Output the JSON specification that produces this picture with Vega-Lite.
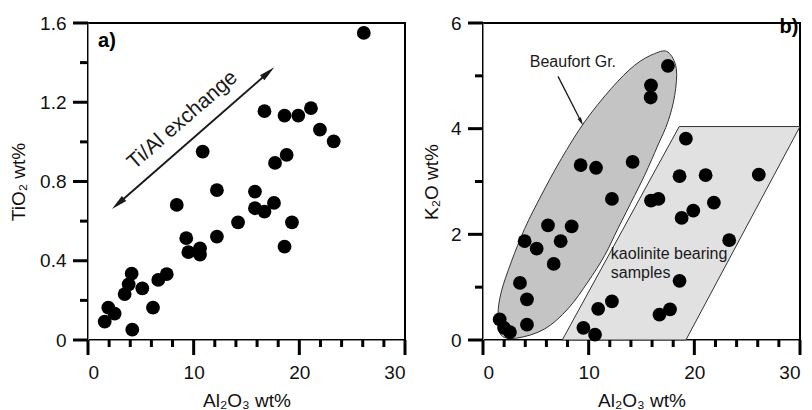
{
  "$schema": "https://vega.github.io/schema/vega-lite/v6.json",
  "padding": {"left": 8, "top": 13, "right": 0, "bottom": 0},
  "background": "white",
  "spacing": 13,
  "datasets": {
    "a_points": [
      {"x": 26.1, "y": 1.55}, {"x": 16.7, "y": 1.155}, {"x": 18.6, "y": 1.133}, {"x": 19.9, "y": 1.133},
      {"x": 21.1, "y": 1.17}, {"x": 21.95, "y": 1.062}, {"x": 23.25, "y": 1.003}, {"x": 10.85, "y": 0.951},
      {"x": 17.7, "y": 0.894}, {"x": 18.8, "y": 0.934}, {"x": 12.2, "y": 0.756}, {"x": 15.8, "y": 0.749},
      {"x": 8.4, "y": 0.682}, {"x": 17.6, "y": 0.692}, {"x": 15.8, "y": 0.665}, {"x": 16.7, "y": 0.648},
      {"x": 19.3, "y": 0.594}, {"x": 14.2, "y": 0.594}, {"x": 18.6, "y": 0.471}, {"x": 12.2, "y": 0.522},
      {"x": 9.3, "y": 0.514}, {"x": 9.5, "y": 0.443}, {"x": 10.6, "y": 0.463}, {"x": 10.6, "y": 0.431},
      {"x": 7.45, "y": 0.332}, {"x": 6.65, "y": 0.303}, {"x": 4.13, "y": 0.335}, {"x": 3.85, "y": 0.281},
      {"x": 3.47, "y": 0.232}, {"x": 5.14, "y": 0.261}, {"x": 6.15, "y": 0.163}, {"x": 1.92, "y": 0.163},
      {"x": 2.52, "y": 0.133}, {"x": 1.58, "y": 0.093}, {"x": 4.19, "y": 0.052}
    ],
    "b_points": [
      {"x": 17.5, "y": 5.19}, {"x": 15.9, "y": 4.82}, {"x": 15.87, "y": 4.59}, {"x": 19.2, "y": 3.81},
      {"x": 9.24, "y": 3.31}, {"x": 10.7, "y": 3.26}, {"x": 14.16, "y": 3.37}, {"x": 18.6, "y": 3.1},
      {"x": 21.07, "y": 3.12}, {"x": 26.1, "y": 3.13}, {"x": 12.2, "y": 2.67}, {"x": 15.9, "y": 2.64},
      {"x": 16.6, "y": 2.67}, {"x": 19.9, "y": 2.45}, {"x": 18.8, "y": 2.31}, {"x": 21.85, "y": 2.6},
      {"x": 23.3, "y": 1.89}, {"x": 6.15, "y": 2.17}, {"x": 8.39, "y": 2.15}, {"x": 3.94, "y": 1.87},
      {"x": 5.08, "y": 1.73}, {"x": 7.35, "y": 1.87}, {"x": 6.69, "y": 1.44}, {"x": 3.5, "y": 1.08},
      {"x": 4.16, "y": 0.77}, {"x": 4.16, "y": 0.29}, {"x": 1.58, "y": 0.39}, {"x": 1.99, "y": 0.23},
      {"x": 2.55, "y": 0.15}, {"x": 18.6, "y": 1.12}, {"x": 12.2, "y": 0.73}, {"x": 10.9, "y": 0.59},
      {"x": 17.7, "y": 0.58}, {"x": 16.7, "y": 0.48}, {"x": 9.5, "y": 0.23}, {"x": 10.6, "y": 0.1}
    ],
    "ellipse": [
      {"i": 1, "x": 17.5, "y": 5.45}, {"i": 2, "x": 18.29, "y": 5.14}, {"i": 3, "x": 18.14, "y": 4.63},
      {"i": 4, "x": 17.5, "y": 4.13}, {"i": 5, "x": 16.56, "y": 3.69}, {"i": 6, "x": 15.3, "y": 3.12},
      {"i": 7, "x": 14.03, "y": 2.61}, {"i": 8, "x": 12.77, "y": 2.11}, {"i": 9, "x": 11.51, "y": 1.6},
      {"i": 10, "x": 9.93, "y": 1.1}, {"i": 11, "x": 8.04, "y": 0.59}, {"i": 12, "x": 5.84, "y": 0.21},
      {"i": 13, "x": 3.31, "y": 0.04}, {"i": 14, "x": 1.73, "y": 0.09}, {"i": 15, "x": 1.42, "y": 0.47},
      {"i": 16, "x": 1.73, "y": 0.91}, {"i": 17, "x": 2.68, "y": 1.48}, {"i": 18, "x": 3.95, "y": 2.11},
      {"i": 19, "x": 5.52, "y": 2.74}, {"i": 20, "x": 7.41, "y": 3.43}, {"i": 21, "x": 9.62, "y": 4.13},
      {"i": 22, "x": 12.14, "y": 4.76}, {"i": 23, "x": 14.35, "y": 5.2}, {"i": 24, "x": 16.24, "y": 5.42}
    ],
    "para": [
      {"i": 1, "x": 7.5, "y": 0}, {"i": 2, "x": 18.57, "y": 4.04}, {"i": 3, "x": 30, "y": 4.04}, {"i": 4, "x": 19.2, "y": 0}
    ],
    "a_xticks": [
      {"x": 0, "y": 0, "y2": -0.0757}, {"x": 10, "y": 0, "y2": -0.0757}, {"x": 20, "y": 0, "y2": -0.0757}, {"x": 30, "y": 0, "y2": -0.0757},
      {"x": 2, "y": 0, "y2": -0.0353}, {"x": 4, "y": 0, "y2": -0.0353}, {"x": 6, "y": 0, "y2": -0.0353}, {"x": 8, "y": 0, "y2": -0.0353},
      {"x": 12, "y": 0, "y2": -0.0353}, {"x": 14, "y": 0, "y2": -0.0353}, {"x": 16, "y": 0, "y2": -0.0353}, {"x": 18, "y": 0, "y2": -0.0353},
      {"x": 22, "y": 0, "y2": -0.0353}, {"x": 24, "y": 0, "y2": -0.0353}, {"x": 26, "y": 0, "y2": -0.0353}, {"x": 28, "y": 0, "y2": -0.0353}
    ],
    "a_yticks": [
      {"y": 0, "x": 0, "x2": -1.42}, {"y": 0.4, "x": 0, "x2": -1.42}, {"y": 0.8, "x": 0, "x2": -1.42}, {"y": 1.2, "x": 0, "x2": -1.42}, {"y": 1.6, "x": 0, "x2": -1.42},
      {"y": 0.2, "x": 0, "x2": -0.757}, {"y": 0.6, "x": 0, "x2": -0.757}, {"y": 1.0, "x": 0, "x2": -0.757}, {"y": 1.4, "x": 0, "x2": -0.757}
    ],
    "b_xticks": [
      {"x": 0, "y": 0, "y2": -0.284}, {"x": 10, "y": 0, "y2": -0.284}, {"x": 20, "y": 0, "y2": -0.284}, {"x": 30, "y": 0, "y2": -0.284},
      {"x": 2, "y": 0, "y2": -0.1325}, {"x": 4, "y": 0, "y2": -0.1325}, {"x": 6, "y": 0, "y2": -0.1325}, {"x": 8, "y": 0, "y2": -0.1325},
      {"x": 12, "y": 0, "y2": -0.1325}, {"x": 14, "y": 0, "y2": -0.1325}, {"x": 16, "y": 0, "y2": -0.1325}, {"x": 18, "y": 0, "y2": -0.1325},
      {"x": 22, "y": 0, "y2": -0.1325}, {"x": 24, "y": 0, "y2": -0.1325}, {"x": 26, "y": 0, "y2": -0.1325}, {"x": 28, "y": 0, "y2": -0.1325}
    ],
    "b_yticks": [
      {"y": 0, "x": 0, "x2": -1.42}, {"y": 2, "x": 0, "x2": -1.42}, {"y": 4, "x": 0, "x2": -1.42}, {"y": 6, "x": 0, "x2": -1.42},
      {"y": 1, "x": 0, "x2": -0.757}, {"y": 3, "x": 0, "x2": -0.757}, {"y": 5, "x": 0, "x2": -0.757}
    ]
  },
  "config": {
    "font": "Liberation Sans",
    "view": {"stroke": "black", "strokeWidth": 2},
    "axis": {
      "grid": false,
      "ticks": false,
      "labelFontSize": 19,
      "titleFontSize": 19,
      "labelColor": "#111111",
      "titleColor": "#111111",
      "titleFontWeight": "normal"
    }
  },
  "hconcat": [
    {
      "width": 317,
      "height": 317,
      "layer": [
        {
          "data": {"name": "a_xticks"},
          "mark": {"type": "rule", "color": "black", "strokeWidth": 3},
          "encoding": {
            "x": {"field": "x", "type": "quantitative"},
            "y": {"field": "y", "type": "quantitative"},
            "y2": {"field": "y2"}
          }
        },
        {
          "data": {"name": "a_yticks"},
          "mark": {"type": "rule", "color": "black", "strokeWidth": 3},
          "encoding": {
            "x": {"field": "x", "type": "quantitative"},
            "x2": {"field": "x2"},
            "y": {"field": "y", "type": "quantitative"}
          }
        },
        {
          "data": {"values": [{"x": 2.84, "y": 0.688, "x2": 17.06, "y2": 1.35}]},
          "mark": {"type": "rule", "color": "#1a1a1a", "strokeWidth": 2},
          "encoding": {
            "x": {"field": "x", "type": "quantitative"},
            "y": {"field": "y", "type": "quantitative"},
            "x2": {"field": "x2"}, "y2": {"field": "y2"}
          }
        },
        {
          "data": {"values": [{"x": 17.06, "y": 1.35}]},
          "mark": {"type": "point", "shape": "M0,-1L0.42,1L-0.42,1Z", "filled": true, "color": "#1a1a1a", "opacity": 1, "size": 256, "angle": 48.9},
          "encoding": {"x": {"field": "x", "type": "quantitative"}, "y": {"field": "y", "type": "quantitative"}}
        },
        {
          "data": {"values": [{"x": 2.84, "y": 0.688}]},
          "mark": {"type": "point", "shape": "M0,-1L0.42,1L-0.42,1Z", "filled": true, "color": "#1a1a1a", "opacity": 1, "size": 256, "angle": 228.9},
          "encoding": {"x": {"field": "x", "type": "quantitative"}, "y": {"field": "y", "type": "quantitative"}}
        },
        {
          "data": {"values": [{"x": 8.95, "y": 1.11, "label": "Ti/Al exchange"}]},
          "mark": {"type": "text", "angle": -41, "fontSize": 21, "color": "#1a1a1a", "align": "center", "baseline": "middle"},
          "encoding": {"x": {"field": "x", "type": "quantitative"}, "y": {"field": "y", "type": "quantitative"}, "text": {"field": "label"}}
        },
        {
          "data": {"name": "a_points"},
          "mark": {"type": "circle", "color": "black", "opacity": 1, "size": 190},
          "encoding": {
            "x": {
              "field": "x", "type": "quantitative",
              "scale": {"domain": [0, 30], "nice": false, "zero": false},
              "axis": {"title": "Al₂O₃ wt%", "values": [0, 10, 20, 30], "labelPadding": 23, "titlePadding": 9}
            },
            "y": {
              "field": "y", "type": "quantitative",
              "scale": {"domain": [0, 1.6], "nice": false, "zero": false},
              "axis": {"title": "TiO₂ wt%", "values": [0, 0.4, 0.8, 1.2, 1.6], "format": ".1~f", "labelPadding": 22, "titlePadding": 11}
            }
          }
        },
        {
          "data": {"values": [{"x": 0.95, "y": 1.507, "label": "a)"}]},
          "mark": {"type": "text", "fontSize": 20, "fontWeight": "bold", "color": "black", "align": "left", "baseline": "middle"},
          "encoding": {"x": {"field": "x", "type": "quantitative"}, "y": {"field": "y", "type": "quantitative"}, "text": {"field": "label"}}
        }
      ]
    },
    {
      "width": 317,
      "height": 317,
      "layer": [
        {
          "data": {"name": "para"},
          "mark": {"type": "line", "interpolate": "linear-closed", "fill": "#e1e1e1", "stroke": "#333333", "strokeWidth": 1},
          "encoding": {"x": {"field": "x", "type": "quantitative"}, "y": {"field": "y", "type": "quantitative"}, "order": {"field": "i", "type": "quantitative"}}
        },
        {
          "data": {"name": "ellipse"},
          "mark": {"type": "line", "interpolate": "cardinal-closed", "fill": "#c4c4c4", "stroke": "#333333", "strokeWidth": 1},
          "encoding": {"x": {"field": "x", "type": "quantitative"}, "y": {"field": "y", "type": "quantitative"}, "order": {"field": "i", "type": "quantitative"}}
        },
        {
          "data": {"name": "b_xticks"},
          "mark": {"type": "rule", "color": "black", "strokeWidth": 3},
          "encoding": {
            "x": {"field": "x", "type": "quantitative"},
            "y": {"field": "y", "type": "quantitative"},
            "y2": {"field": "y2"}
          }
        },
        {
          "data": {"name": "b_yticks"},
          "mark": {"type": "rule", "color": "black", "strokeWidth": 3},
          "encoding": {
            "x": {"field": "x", "type": "quantitative"},
            "x2": {"field": "x2"},
            "y": {"field": "y", "type": "quantitative"}
          }
        },
        {
          "data": {"values": [{"x": 7.1, "y": 4.99, "x2": 9.29, "y2": 4.131}]},
          "mark": {"type": "rule", "color": "#1a1a1a", "strokeWidth": 1.3},
          "encoding": {
            "x": {"field": "x", "type": "quantitative"},
            "y": {"field": "y", "type": "quantitative"},
            "x2": {"field": "x2"}, "y2": {"field": "y2"}
          }
        },
        {
          "data": {"values": [{"x": 9.29, "y": 4.131}]},
          "mark": {"type": "point", "shape": "M0,-1L0.45,1L-0.45,1Z", "filled": true, "color": "#1a1a1a", "opacity": 1, "size": 70, "angle": 152.5},
          "encoding": {"x": {"field": "x", "type": "quantitative"}, "y": {"field": "y", "type": "quantitative"}}
        },
        {
          "data": {"name": "b_points"},
          "mark": {"type": "circle", "color": "black", "opacity": 1, "size": 190},
          "encoding": {
            "x": {
              "field": "x", "type": "quantitative",
              "scale": {"domain": [0, 30], "nice": false, "zero": false},
              "axis": {"title": "Al₂O₃ wt%", "values": [0, 10, 20, 30], "labelPadding": 23, "titlePadding": 9}
            },
            "y": {
              "field": "y", "type": "quantitative",
              "scale": {"domain": [0, 6], "nice": false, "zero": false},
              "axis": {"title": "K₂O wt%", "values": [0, 2, 4, 6], "labelPadding": 22, "titlePadding": 9}
            }
          }
        },
        {
          "data": {"values": [{"x": 8.51, "y": 5.26, "label": "Beaufort Gr."}]},
          "mark": {"type": "text", "fontSize": 16, "color": "#1a1a1a", "align": "center", "baseline": "middle"},
          "encoding": {"x": {"field": "x", "type": "quantitative"}, "y": {"field": "y", "type": "quantitative"}, "text": {"field": "label"}}
        },
        {
          "data": {"values": [{"x": 12.1, "y": 1.63, "label": "kaolinite bearing"}, {"x": 12.1, "y": 1.27, "label": "samples"}]},
          "mark": {"type": "text", "fontSize": 16, "color": "#1a1a1a", "align": "left", "baseline": "middle"},
          "encoding": {"x": {"field": "x", "type": "quantitative"}, "y": {"field": "y", "type": "quantitative"}, "text": {"field": "label"}}
        },
        {
          "data": {"values": [{"x": 29.85, "y": 5.92, "label": "b)"}]},
          "mark": {"type": "text", "fontSize": 20, "fontWeight": "bold", "color": "black", "align": "right", "baseline": "middle"},
          "encoding": {"x": {"field": "x", "type": "quantitative"}, "y": {"field": "y", "type": "quantitative"}, "text": {"field": "label"}}
        }
      ]
    }
  ]
}
